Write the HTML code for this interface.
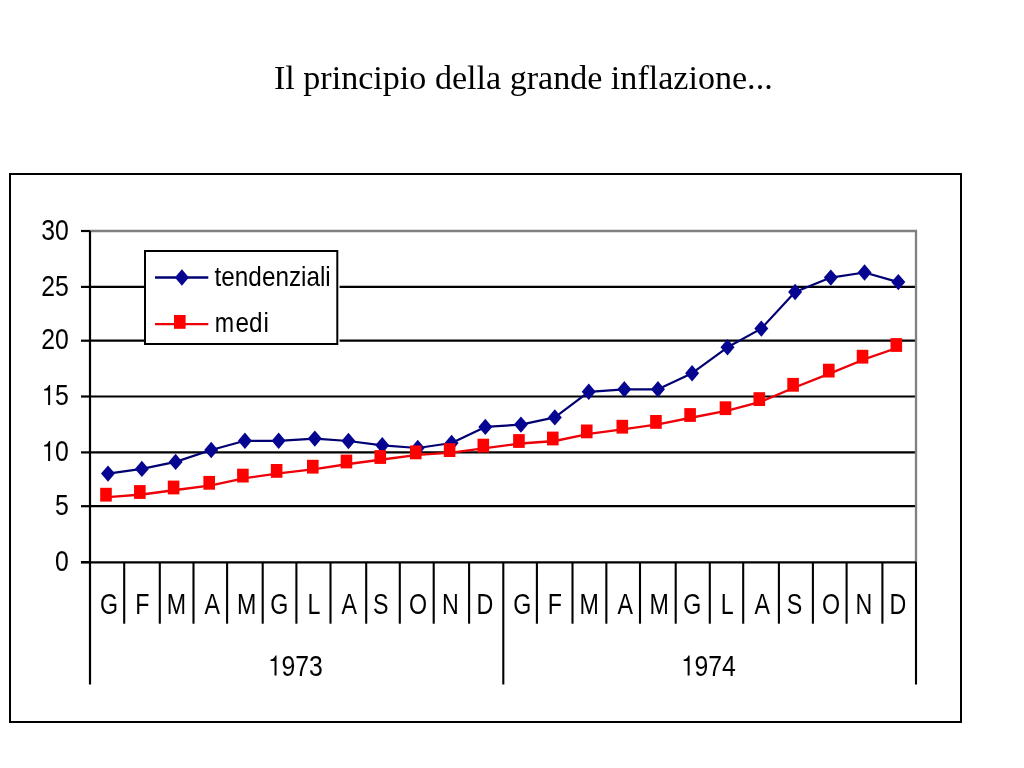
<!DOCTYPE html>
<html><head><meta charset="utf-8"><style>
html,body{margin:0;padding:0;background:#fff;width:1024px;height:768px;overflow:hidden}
svg{position:absolute;left:0;top:0}
svg text{font-family:"Liberation Sans",sans-serif}
.title,svg{will-change:transform}
.title{position:absolute;left:274.3px;top:58.4px;font:34.1px "Liberation Serif",serif;color:#000;white-space:nowrap;line-height:39px;font-variant-ligatures:none}
#wrap{position:absolute;left:0;top:0;width:1024px;height:768px;filter:blur(0.5px)}
</style></head><body><div id="wrap">
<div class="title">Il principio della grande inflazione...</div>
<svg width="1024" height="768" viewBox="0 0 1024 768">
<rect x="10" y="174" width="951" height="548" fill="none" stroke="#000" stroke-width="2"/>
<line x1="90" y1="286.9" x2="916" y2="286.9" stroke="#000" stroke-width="2.2"/>
<line x1="90" y1="340.7" x2="916" y2="340.7" stroke="#000" stroke-width="2.2"/>
<line x1="90" y1="396.5" x2="916" y2="396.5" stroke="#000" stroke-width="2.2"/>
<line x1="90" y1="452.4" x2="916" y2="452.4" stroke="#000" stroke-width="2.2"/>
<line x1="90" y1="506.2" x2="916" y2="506.2" stroke="#000" stroke-width="2.2"/>
<polyline points="90,231 916,231 916,562" fill="none" stroke="#808080" stroke-width="2.3"/>
<line x1="81" y1="231" x2="90" y2="231" stroke="#000" stroke-width="2.2"/>
<line x1="81" y1="286.9" x2="90" y2="286.9" stroke="#000" stroke-width="2.2"/>
<line x1="81" y1="340.7" x2="90" y2="340.7" stroke="#000" stroke-width="2.2"/>
<line x1="81" y1="396.5" x2="90" y2="396.5" stroke="#000" stroke-width="2.2"/>
<line x1="81" y1="452.4" x2="90" y2="452.4" stroke="#000" stroke-width="2.2"/>
<line x1="81" y1="506.2" x2="90" y2="506.2" stroke="#000" stroke-width="2.2"/>
<line x1="81" y1="562.1" x2="90" y2="562.1" stroke="#000" stroke-width="2.2"/>
<line x1="90" y1="231" x2="90" y2="684.5" stroke="#000" stroke-width="2.2"/>
<line x1="81" y1="562.3" x2="916" y2="562.3" stroke="#000" stroke-width="2.2"/>
<line x1="124.20" y1="562" x2="124.20" y2="623.7" stroke="#000" stroke-width="2.1"/>
<line x1="159.80" y1="562" x2="159.80" y2="623.7" stroke="#000" stroke-width="2.1"/>
<line x1="193.50" y1="562" x2="193.50" y2="623.7" stroke="#000" stroke-width="2.1"/>
<line x1="227.10" y1="562" x2="227.10" y2="623.7" stroke="#000" stroke-width="2.1"/>
<line x1="262.70" y1="562" x2="262.70" y2="623.7" stroke="#000" stroke-width="2.1"/>
<line x1="296.40" y1="562" x2="296.40" y2="623.7" stroke="#000" stroke-width="2.1"/>
<line x1="330.50" y1="562" x2="330.50" y2="623.7" stroke="#000" stroke-width="2.1"/>
<line x1="366.20" y1="562" x2="366.20" y2="623.7" stroke="#000" stroke-width="2.1"/>
<line x1="399.80" y1="562" x2="399.80" y2="623.7" stroke="#000" stroke-width="2.1"/>
<line x1="433.70" y1="562" x2="433.70" y2="623.7" stroke="#000" stroke-width="2.1"/>
<line x1="469.10" y1="562" x2="469.10" y2="623.7" stroke="#000" stroke-width="2.1"/>
<line x1="503.30" y1="562" x2="503.30" y2="684.5" stroke="#000" stroke-width="2.1"/>
<line x1="536.90" y1="562" x2="536.90" y2="623.7" stroke="#000" stroke-width="2.1"/>
<line x1="572.50" y1="562" x2="572.50" y2="623.7" stroke="#000" stroke-width="2.1"/>
<line x1="606.35" y1="562" x2="606.35" y2="623.7" stroke="#000" stroke-width="2.1"/>
<line x1="640.00" y1="562" x2="640.00" y2="623.7" stroke="#000" stroke-width="2.1"/>
<line x1="675.70" y1="562" x2="675.70" y2="623.7" stroke="#000" stroke-width="2.1"/>
<line x1="709.80" y1="562" x2="709.80" y2="623.7" stroke="#000" stroke-width="2.1"/>
<line x1="743.20" y1="562" x2="743.20" y2="623.7" stroke="#000" stroke-width="2.1"/>
<line x1="778.90" y1="562" x2="778.90" y2="623.7" stroke="#000" stroke-width="2.1"/>
<line x1="812.90" y1="562" x2="812.90" y2="623.7" stroke="#000" stroke-width="2.1"/>
<line x1="846.60" y1="562" x2="846.60" y2="623.7" stroke="#000" stroke-width="2.1"/>
<line x1="882.40" y1="562" x2="882.40" y2="623.7" stroke="#000" stroke-width="2.1"/>
<line x1="916" y1="562" x2="916" y2="684.5" stroke="#000" stroke-width="2.1"/>
<g font-size="29" fill="#000">
<text transform="translate(41.22 239.60) scale(0.855 1)">3</text><text transform="translate(55.01 239.60) scale(0.855 1)">0</text>
<text transform="translate(41.22 295.50) scale(0.855 1)">2</text><text transform="translate(55.01 295.50) scale(0.855 1)">5</text>
<text transform="translate(41.22 349.30) scale(0.855 1)">2</text><text transform="translate(55.01 349.30) scale(0.855 1)">0</text>
<path transform="translate(41.22 405.10)" d="M8.9 0L6.9 0L6.9 -14.5L3.0 -14.5L2.9 -16.1C4.6 -16.3 5.6 -16.8 6.2 -17.5C6.8 -18.2 7.4 -19.2 7.8 -20.1L8.9 -20.1Z"/><text transform="translate(55.01 405.10) scale(0.855 1)">5</text>
<path transform="translate(41.22 461.00)" d="M8.9 0L6.9 0L6.9 -14.5L3.0 -14.5L2.9 -16.1C4.6 -16.3 5.6 -16.8 6.2 -17.5C6.8 -18.2 7.4 -19.2 7.8 -20.1L8.9 -20.1Z"/><text transform="translate(55.01 461.00) scale(0.855 1)">0</text>
<text transform="translate(55.01 514.80) scale(0.855 1)">5</text>
<text transform="translate(55.01 570.70) scale(0.855 1)">0</text>
</g><g font-size="29.5" fill="#000">
<text transform="translate(108.91 614.40) scale(0.787 1)" text-anchor="middle">G</text>
<text transform="translate(142.22 614.40) scale(0.787 1)" text-anchor="middle">F</text>
<text transform="translate(176.34 614.40) scale(0.787 1)" text-anchor="middle">M</text>
<text transform="translate(212.26 614.40) scale(0.787 1)" text-anchor="middle">A</text>
<text transform="translate(246.68 614.40) scale(0.787 1)" text-anchor="middle">M</text>
<text transform="translate(279.19 614.40) scale(0.787 1)" text-anchor="middle">G</text>
<text transform="translate(314.01 614.40) scale(0.787 1)" text-anchor="middle">L</text>
<text transform="translate(349.32 614.40) scale(0.787 1)" text-anchor="middle">A</text>
<text transform="translate(380.84 614.40) scale(0.787 1)" text-anchor="middle">S</text>
<text transform="translate(418.06 614.40) scale(0.787 1)" text-anchor="middle">O</text>
<text transform="translate(450.47 614.40) scale(0.787 1)" text-anchor="middle">N</text>
<text transform="translate(484.89 614.40) scale(0.787 1)" text-anchor="middle">D</text>
<text transform="translate(522.31 614.40) scale(0.787 1)" text-anchor="middle">G</text>
<text transform="translate(554.92 614.40) scale(0.787 1)" text-anchor="middle">F</text>
<text transform="translate(589.24 614.40) scale(0.787 1)" text-anchor="middle">M</text>
<text transform="translate(625.16 614.40) scale(0.787 1)" text-anchor="middle">A</text>
<text transform="translate(659.07 614.40) scale(0.787 1)" text-anchor="middle">M</text>
<text transform="translate(692.39 614.40) scale(0.787 1)" text-anchor="middle">G</text>
<text transform="translate(727.11 614.40) scale(0.787 1)" text-anchor="middle">L</text>
<text transform="translate(762.32 614.40) scale(0.787 1)" text-anchor="middle">A</text>
<text transform="translate(794.44 614.40) scale(0.787 1)" text-anchor="middle">S</text>
<text transform="translate(831.06 614.40) scale(0.787 1)" text-anchor="middle">O</text>
<text transform="translate(863.88 614.40) scale(0.787 1)" text-anchor="middle">N</text>
<text transform="translate(897.79 614.40) scale(0.787 1)" text-anchor="middle">D</text>
</g><g font-size="29" fill="#000">
<path transform="translate(267.62 675.60)" d="M8.9 0L6.9 0L6.9 -14.5L3.0 -14.5L2.9 -16.1C4.6 -16.3 5.6 -16.8 6.2 -17.5C6.8 -18.2 7.4 -19.2 7.8 -20.1L8.9 -20.1Z"/><text transform="translate(281.41 675.60) scale(0.855 1)">9</text><text transform="translate(295.20 675.60) scale(0.855 1)">7</text><text transform="translate(308.99 675.60) scale(0.855 1)">3</text>
<path transform="translate(680.72 675.60)" d="M8.9 0L6.9 0L6.9 -14.5L3.0 -14.5L2.9 -16.1C4.6 -16.3 5.6 -16.8 6.2 -17.5C6.8 -18.2 7.4 -19.2 7.8 -20.1L8.9 -20.1Z"/><text transform="translate(694.51 675.60) scale(0.855 1)">9</text><text transform="translate(708.30 675.60) scale(0.855 1)">7</text><text transform="translate(722.09 675.60) scale(0.855 1)">4</text>
</g>
<polyline points="108.00,473.60 141.85,468.90 175.60,461.90 211.20,450.00 244.90,440.80 278.65,440.80 314.80,438.60 348.45,441.00 382.25,445.30 417.75,448.00 451.60,443.00 485.30,426.90 520.95,424.60 554.80,417.40 588.75,391.80 624.30,389.30 657.95,389.30 692.10,373.20 727.50,347.30 761.30,328.60 795.10,292.00 830.80,277.60 864.55,272.50 898.30,282.10" fill="none" stroke="#000070" stroke-width="2.2" stroke-linejoin="round"/>
<g fill="#050592"><path d="M108.00 465.40L115.00 473.60L108.00 481.80L101.00 473.60Z"/><path d="M141.85 460.70L148.85 468.90L141.85 477.10L134.85 468.90Z"/><path d="M175.60 453.70L182.60 461.90L175.60 470.10L168.60 461.90Z"/><path d="M211.20 441.80L218.20 450.00L211.20 458.20L204.20 450.00Z"/><path d="M244.90 432.60L251.90 440.80L244.90 449.00L237.90 440.80Z"/><path d="M278.65 432.60L285.65 440.80L278.65 449.00L271.65 440.80Z"/><path d="M314.80 430.40L321.80 438.60L314.80 446.80L307.80 438.60Z"/><path d="M348.45 432.80L355.45 441.00L348.45 449.20L341.45 441.00Z"/><path d="M382.25 437.10L389.25 445.30L382.25 453.50L375.25 445.30Z"/><path d="M417.75 439.80L424.75 448.00L417.75 456.20L410.75 448.00Z"/><path d="M451.60 434.80L458.60 443.00L451.60 451.20L444.60 443.00Z"/><path d="M485.30 418.70L492.30 426.90L485.30 435.10L478.30 426.90Z"/><path d="M520.95 416.40L527.95 424.60L520.95 432.80L513.95 424.60Z"/><path d="M554.80 409.20L561.80 417.40L554.80 425.60L547.80 417.40Z"/><path d="M588.75 383.60L595.75 391.80L588.75 400.00L581.75 391.80Z"/><path d="M624.30 381.10L631.30 389.30L624.30 397.50L617.30 389.30Z"/><path d="M657.95 381.10L664.95 389.30L657.95 397.50L650.95 389.30Z"/><path d="M692.10 365.00L699.10 373.20L692.10 381.40L685.10 373.20Z"/><path d="M727.50 339.10L734.50 347.30L727.50 355.50L720.50 347.30Z"/><path d="M761.30 320.40L768.30 328.60L761.30 336.80L754.30 328.60Z"/><path d="M795.10 283.80L802.10 292.00L795.10 300.20L788.10 292.00Z"/><path d="M830.80 269.40L837.80 277.60L830.80 285.80L823.80 277.60Z"/><path d="M864.55 264.30L871.55 272.50L864.55 280.70L857.55 272.50Z"/><path d="M898.30 273.90L905.30 282.10L898.30 290.30L891.30 282.10Z"/></g>
<polyline points="108.00,497.20 141.85,494.50 175.60,490.00 211.20,485.30 244.90,478.10 278.65,473.40 314.80,469.20 348.45,464.00 382.25,459.50 417.75,454.90 451.60,452.60 485.30,448.10 520.95,443.50 554.80,441.00 588.75,433.90 624.30,429.20 657.95,424.40 692.10,417.50 727.50,410.70 761.30,401.60 795.10,387.30 830.80,373.10 864.55,359.20 898.30,347.50" fill="none" stroke="#ee0008" stroke-width="2.3" stroke-linejoin="round"/>
<g fill="#ff0000"><rect x="100.20" y="487.80" width="11.60" height="13.80"/><rect x="134.05" y="485.10" width="11.60" height="13.80"/><rect x="167.80" y="480.60" width="11.60" height="13.80"/><rect x="203.40" y="475.90" width="11.60" height="13.80"/><rect x="237.10" y="468.70" width="11.60" height="13.80"/><rect x="270.85" y="464.00" width="11.60" height="13.80"/><rect x="307.00" y="459.80" width="11.60" height="13.80"/><rect x="340.65" y="454.60" width="11.60" height="13.80"/><rect x="374.45" y="450.10" width="11.60" height="13.80"/><rect x="409.95" y="445.50" width="11.60" height="13.80"/><rect x="443.80" y="443.20" width="11.60" height="13.80"/><rect x="477.50" y="438.70" width="11.60" height="13.80"/><rect x="513.15" y="434.10" width="11.60" height="13.80"/><rect x="547.00" y="431.60" width="11.60" height="13.80"/><rect x="580.95" y="424.50" width="11.60" height="13.80"/><rect x="616.50" y="419.80" width="11.60" height="13.80"/><rect x="650.15" y="415.00" width="11.60" height="13.80"/><rect x="684.30" y="408.10" width="11.60" height="13.80"/><rect x="719.70" y="401.30" width="11.60" height="13.80"/><rect x="753.50" y="392.20" width="11.60" height="13.80"/><rect x="787.30" y="377.90" width="11.60" height="13.80"/><rect x="823.00" y="363.70" width="11.60" height="13.80"/><rect x="856.75" y="349.80" width="11.60" height="13.80"/><rect x="890.50" y="338.10" width="11.60" height="13.80"/></g>
<rect x="144" y="250" width="195.6" height="95" fill="#fff"/>
<rect x="145" y="251" width="192.3" height="93" fill="none" stroke="#000" stroke-width="2"/>
<line x1="155" y1="277.5" x2="208.3" y2="277.5" stroke="#000070" stroke-width="2.3"/>
<g fill="#050592"><path d="M181.90 269.30L188.90 277.50L181.90 285.70L174.90 277.50Z"/></g>
<line x1="155" y1="324.1" x2="208.3" y2="324.1" stroke="#ee0008" stroke-width="2.3"/>
<g fill="#ff0000"><rect x="174.00" y="315.00" width="11.60" height="13.80"/></g>
<g font-size="28.5" fill="#000">
<text transform="translate(214.60 285.70) scale(0.853 1)" text-anchor="start">tendenziali</text>
<text transform="translate(214.80 332.30) scale(0.815 1)" text-anchor="start">m</text>
<text transform="translate(235.60 332.30) scale(0.853 1)" text-anchor="start">e</text>
<text transform="translate(249.00 332.30) scale(0.853 1)" text-anchor="start">d</text>
<text transform="translate(263.60 332.30) scale(0.853 1)" text-anchor="start">i</text>
</g>
</svg>
</div></body></html>
